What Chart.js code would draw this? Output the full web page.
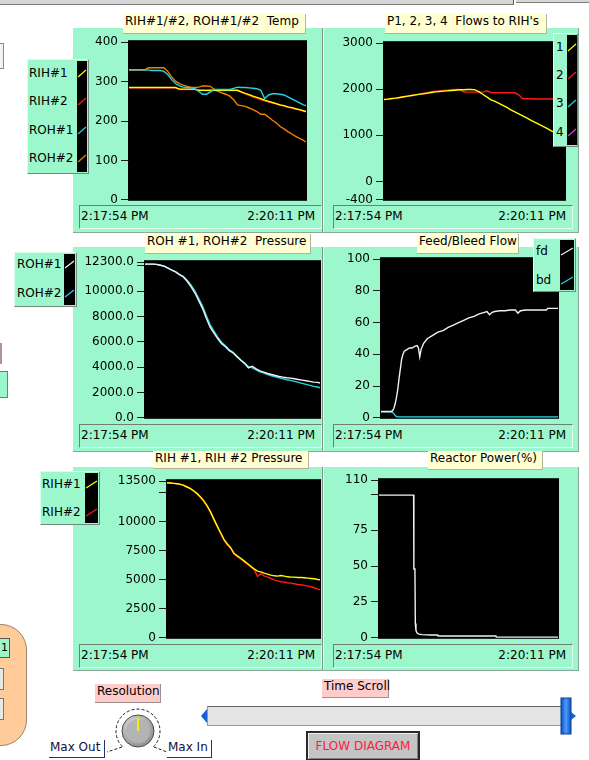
<!DOCTYPE html>
<html>
<head>
<meta charset="utf-8">
<title>Plant trends</title>
<script src="https://cdn.jsdelivr.net/npm/chart.js@4.4.1/dist/chart.umd.min.js"></script>
<style>
html,body{margin:0;padding:0;}
body{width:589px;height:760px;position:relative;overflow:hidden;background:#fff;font-family:"DejaVu Sans",sans-serif;font-size:12px;color:#000;}
.a{position:absolute;box-sizing:border-box;}
.row{background:#9cf8cc;border-right:1px solid #8aa89a;border-bottom:1px solid #8aa89a;}
.sep{width:2px;border-left:1px solid #7e9488;border-right:1px solid #d6fff0;}
.title{background:#ffffd2;border-right:1px solid #b4b49c;border-bottom:1px solid #b4b49c;white-space:pre;padding-left:2px;font-size:12px;z-index:5;}
.tbox{border:1px solid #6f7f77;border-right-color:#e0fff0;border-bottom-color:#e0fff0;background:#9cf8cc;font-size:12px;z-index:4;}
.tbox span{position:absolute;top:3px;white-space:pre;}
.legend{background:#9cf8cc;border:1px solid #d8fff0;border-right-color:#6f8a7e;border-bottom-color:#6f8a7e;z-index:6;}
.legend .lab{position:absolute;font-size:12px;line-height:14px;white-space:pre;}
.strip{position:absolute;background:#000;}
.pink{background:#ffcccc;border-right:1px solid #a09090;border-bottom:1px solid #a09090;font-size:12px;white-space:pre;padding-left:2px;}
.wlab{background:#fff;border-right:1px solid #303060;border-bottom:1px solid #303060;font-size:12px;color:#10103a;white-space:pre;padding-left:1px;}
canvas{position:absolute;z-index:3;}
</style>
</head>
<body>
<script>
// ---- trend window ----
const timeLabels = ['2:17:54 PM', '2:20:11 PM'];
const windowSec = 137;

// shared sample times (s after 2:17:54) for the 3-second trends
const gridTime = [0,3,6,9,12,15,18,21,24,27,30,33,36,39,42,45,48,51,54,57,60,63,66,69,72,75,78,81,84,87,90,93,96,99,102,105,108,111,114,117,120,123,126,129,132,135,137];

// ---- RIH/ROH temperatures ----
const tempTicks = [0,100,200,300,400];
const rih1Temp = [285,285,285,285,285,285,285,285,285,285,285,285,285,281,281,281,281,281,278,278,278,278,278,278,278,278,278,278,278,274,270,267,263,260,257,253,250,247,244,241,239,236,234,231,229,226,224];
const rih2Temp = [284,284,284,284,284,284,284,284,284,284,284,284,284,280,280,280,280,280,277,277,277,277,277,277,277,277,277,277,277,273,269,265,261,258,254,251,248,246,243,240,238,235,233,230,228,225,223];
const roh1Temp = [330,330,330,330,330,329,328,328,328,326,318,305,295,289,286,285,284,282,275,268,268,274,280,280,280,280,280,283,286,285,285,284,283,282,278,257,266,269,269,268,266,261,256,251,246,241,239];
const roh2Temp = [329,329,329,329,329,335,335,335,335,335,326,312,301,295,291,288,285,285,286,289,289,288,280,275,271,268,263,254,241,239,237,233,229,224,217,217,210,202,195,186,180,173,167,161,156,151,146];

// ---- P1..P4 flows to RIHs ----
const flowTicks = [-400,0,1000,2000,3000];
const p1Flow = [1778,1785,1800,1807,1822,1836,1850,1865,1879,1894,1901,1915,1930,1944,1952,1959,1966,1973,1980,1988,1988,1995,1995,1988,1944,1887,1829,1771,1735,1691,1648,1605,1554,1511,1467,1424,1380,1330,1287,1243,1200,1156,1106,1062,1019,976,947];
const p2Flow = [1778,1785,1800,1807,1822,1836,1850,1865,1879,1894,1915,1930,1945,1958,1966,1973,1980,1988,1995,1995,1945,1937,1937,1937,1937,1937,1966,1930,1923,1923,1923,1923,1923,1923,1880,1793,1793,1793,1790,1790,1790,1790,1788,1788,1786,1786,1785];

// ---- ROH pressures ----
const rohPressTicks = [0,2000,4000,6000,8000,10000,12000,12300];
const roh1Press = [12150,12150,12150,12130,12060,11990,11830,11670,11530,11320,11136,10796,10378,9881,9280,8652,7868,7162,6692,6247,5855,5620,5306,5123,4836,4548,4313,3950,4080,3869,3712,3607,3503,3424,3346,3268,3215,3163,3137,3085,3032,2980,2928,2875,2823,2797,2745];
const roh2Press = [12150,12150,12150,12130,12060,11990,11830,11670,11530,11320,11180,10880,10500,10030,9450,8850,8080,7350,6850,6380,5960,5700,5380,5170,4870,4560,4300,4050,3947,3790,3633,3529,3424,3320,3241,3163,3085,3006,2954,2875,2797,2719,2640,2562,2483,2431,2379];

// ---- feed / bleed flow ----
const feedTicks = [0,20,40,60,80,100];
const feedTime = [0,2,4,6,8,9,10,11,12,13,14,15,16,17,18,20,22,24,26,28,29,30,31,33,36,40,44,48,52,56,60,64,68,72,76,80,82,84,86,88,92,96,100,104,106,108,112,116,120,124,128,129,132,137];
const feedFlow = [4,4,4,4,4,4.5,6,9,13,18,25,31,37,40,42,43,44,44,45,45.5,44,38.5,43,47,50,52,54,55,57,58.5,60,61.5,63,64,65.5,66.5,67,65,66.5,67,67.5,67.5,68,68,66,67.5,68,68,68,68,68,69,69,69];
const bleedFlow = [3.8,3.8,3.8,3.8,3.8,3.5,2.5,1.5,0.8,0.5,0.5,0.5,0.5,0.5,0.5,0.5,0.5,0.5,0.5,0.5,0.5,0.5,0.5,0.5,0.5,0.5,0.5,0.5,0.5,0.5,0.5,0.5,0.5,0.5,0.5,0.5,0.5,0.5,0.5,0.5,0.5,0.5,0.5,0.5,0.5,0.5,0.5,0.5,0.5,0.5,0.5,0.5,0.5,0.5];

// ---- RIH pressures ----
const rihPressTicks = [0,2500,5000,7500,10000,12500,13500];
const rih1Press = [13371,13342,13314,13285,13228,13142,13000,12857,12657,12428,12143,11800,11371,10857,10228,9628,9057,8485,8085,7771,7285,7057,6857,6628,6400,6171,5942,5742,5685,5571,5485,5400,5343,5314,5371,5314,5257,5228,5228,5200,5200,5171,5143,5114,5086,5028,5000];
const rih2Press = [13371,13342,13314,13285,13228,13142,13000,12857,12657,12428,12083,11740,11311,10797,10168,9568,8997,8425,8025,7711,7225,6997,6797,6568,6340,6111,5882,5300,5514,5343,5228,5114,5000,4914,4828,4800,4743,4714,4657,4600,4571,4514,4457,4400,4314,4200,4143];

// ---- reactor power ----
const powerTicks = [0,25,50,75,100,110];
const powerTime = [0,26.5,26.7,27.5,27.8,28.3,29,30.5,33,40,45,45.3,89.5,89.8,137];
const reactorPower = [99.6,99.6,48,48,10,5,3.5,2.6,2.2,2.0,2.0,1.3,1.3,0.4,0.4];

const C = {yellow:'#ffff00', red:'#ff1a1a', cyan:'#26d4e4', orange:'#f08000', white:'#f2f2f2', magenta:'#d040d0'};

// ---- page furniture ----
function box(cls, x, y, w, h, html) {
  const d = document.createElement('div');
  d.className = 'a ' + cls;
  Object.assign(d.style, {left:x+'px', top:y+'px', width:w+'px', height:h+'px'});
  if (html !== undefined) d.innerHTML = html;
  document.body.appendChild(d);
  return d;
}

// header bars and clipped neighbouring controls
box('', 0, 0, 514, 5).style.cssText += 'background:#d6d6d6;border-bottom:1px solid #7c7c7c;border-right:1px solid #5c5c5c;';
box('', 516, 0, 73, 3).style.cssText += 'background:#d6d6d6;border-bottom:1px solid #7c7c7c;';
box('', 0, 43, 4, 26).style.cssText += 'background:#f2f2f2;border:1px solid #8a8a8a;border-left:none;';
box('', 0, 343, 2, 21).style.background = '#b09494';
box('', 0, 371, 8, 27).style.cssText += 'background:#9cf8cc;border:1px solid #7a7a7a;border-left:none;';
box('', -45, 624, 72, 122).style.cssText += 'background:#ffcc99;border:1px solid #9c8468;border-radius:26px;';
box('', 0, 638, 10, 20, '<span style="position:absolute;right:1px;top:2px;font-size:11px">1</span>').style.cssText += 'background:#9cf8cc;border:1px solid #555;border-left:none;';
box('', 0, 668, 4, 22).style.cssText += 'background:#e8e8e8;border:1px solid #777;border-left:none;';
box('', 0, 698, 4, 22).style.cssText += 'background:#e8e8e8;border:1px solid #777;border-left:none;';

// green panel rows and separators
box('row', 73, 28, 506, 205);
box('row', 73, 247, 506, 205);
box('row', 73, 467, 506, 204);
box('sep', 322, 28, 2, 204);
box('sep', 322, 247, 2, 204);
box('sep', 322, 467, 2, 203);

// chart titles
box('title', 123, 14, 183, 20, 'RIH#1/#2, ROH#1/#2  Temp');
box('title', 385, 14, 162, 20, "P1, 2, 3, 4  Flows to RIH's");
box('title', 145, 234, 166, 20, 'ROH #1, ROH#2  Pressure');
box('title', 417, 234, 102, 20, 'Feed/Bleed Flow');
box('title', 153, 451, 156, 18, 'RIH #1, RIH #2 Pressure');
box('title', 428, 451, 115, 19, 'Reactor Power(%)');

// time-axis boxes
function timeBox(x, y, w, h) {
  box('tbox', x, y, w, h, '<span style="left:1px">' + timeLabels[0] + '</span><span style="right:6px">' + timeLabels[1] + '</span>');
}
[[79,205],[333,205],[79,424],[333,424],[79,644],[333,644]].forEach(p => timeBox(p[0], p[1], p[0] === 79 ? 243 : 240, 24));

// plot legends
function legend(x, y, w, h, labX, stripX, stripW, items) {
  const d = box('legend', x, y, w, h);
  const s = document.createElement('div');
  s.className = 'strip';
  Object.assign(s.style, {left:(stripX - x - 1)+'px', top:'1px', width:stripW+'px', height:(h - 4)+'px'});
  let svg = '<svg width="' + stripW + '" height="' + (h - 4) + '" style="position:absolute;left:0;top:0">';
  items.forEach(it => {
    const cy = it.cy - y - 2;
    svg += '<line x1="1" y1="' + (cy + 4) + '" x2="' + (stripW - 1) + '" y2="' + (cy - 3) + '" stroke="' + it.color + '" stroke-width="1.2"/>';
    const l = document.createElement('div');
    l.className = 'lab';
    l.textContent = it.label;
    l.style.left = (labX - x - 1) + 'px';
    l.style.top = (it.cy - y - 8) + 'px';
    d.appendChild(l);
  });
  s.innerHTML = svg + '</svg>';
  d.appendChild(s);
}
legend(27, 59, 62, 115, 29, 77, 10, [
  {label:'RIH#1', cy:73, color:C.yellow}, {label:'RIH#2', cy:101, color:C.red},
  {label:'ROH#1', cy:130, color:C.cyan}, {label:'ROH#2', cy:158, color:C.orange}]);
legend(553, 33, 25, 114, 556, 567, 10, [
  {label:'1', cy:47, color:C.yellow}, {label:'2', cy:75, color:C.red},
  {label:'3', cy:103, color:C.cyan}, {label:'4', cy:132, color:C.magenta}]);
legend(14, 252, 63, 55, 17, 64, 11, [
  {label:'ROH#1', cy:264, color:C.white}, {label:'ROH#2', cy:293, color:C.cyan}]);
legend(533, 238, 43, 54, 536, 560, 14, [
  {label:'fd', cy:251, color:C.white}, {label:'bd', cy:280, color:C.cyan}]);
legend(40, 471, 60, 54, 42, 85, 13, [
  {label:'RIH#1', cy:484, color:C.yellow}, {label:'RIH#2', cy:512, color:C.red}]);

// ---- trend charts ----
const plotBackground = {
  id: 'plotBackground',
  beforeDraw(chart) {
    const a = chart.chartArea, ctx = chart.ctx;
    ctx.save();
    ctx.fillStyle = '#000';
    ctx.fillRect(a.left - 1, a.top - 2, a.right - a.left + 2, a.bottom - a.top + 3);
    ctx.restore();
  }
};

function trend(cfg) {
  const [l, t, r, b] = cfg.plot;
  const pad = 10;
  const W = r - l + cfg.axisW + 3, H = b - t + 2 * pad;
  const cv = document.createElement('canvas');
  cv.width = W; cv.height = H;
  Object.assign(cv.style, {left:(l - cfg.axisW)+'px', top:(t - pad)+'px', width:W+'px', height:H+'px'});
  document.body.appendChild(cv);
  new Chart(cv, {
    type: 'line',
    data: {datasets: cfg.series.map(s => ({
      label: s.name,
      data: s.t.map((x, i) => ({x, y: s.v[i]})),
      borderColor: s.color, borderWidth: 1.4, pointRadius: 0, tension: 0, fill: false
    }))},
    options: {
      responsive: false, animation: false, devicePixelRatio: 1,
      layout: {padding: {left: 0, right: 3, top: pad, bottom: pad}},
      plugins: {legend: {display: false}, tooltip: {enabled: false}},
      scales: {
        x: {type: 'linear', min: 0, max: windowSec, display: false},
        y: {
          min: cfg.min, max: cfg.max,
          afterFit: s => { s.width = cfg.axisW; },
          afterBuildTicks: s => { s.ticks = cfg.ticks.map(v => ({value: v})); },
          grid: {drawOnChartArea: false, drawTicks: true, tickLength: 8, color: '#1c1c1c'},
          border: {display: false},
          ticks: {autoSkip: false, padding: 3, color: '#000', font: {family: 'DejaVu Sans', size: 12},
                  callback: v => cfg.fmt(v)}
        }
      }
    },
    plugins: [plotBackground]
  });
}

trend({plot:[129,42,306,200], axisW:42, min:0, max:400, ticks:tempTicks, fmt:v => String(v), series:[
  {name:'ROH#1', t:gridTime, v:roh1Temp, color:C.cyan},
  {name:'RIH#1', t:gridTime, v:rih1Temp, color:C.yellow},
  {name:'ROH#2', t:gridTime, v:roh2Temp, color:C.orange},
  {name:'RIH#2', t:gridTime, v:rih2Temp, color:C.red}]});

trend({plot:[384,43,565,200], axisW:48, min:-400, max:3000, ticks:flowTicks, fmt:v => String(v), series:[
  {name:'1', t:gridTime, v:p1Flow, color:C.yellow},
  {name:'2', t:gridTime, v:p2Flow, color:C.red}]});

trend({plot:[145,262,320,418], axisW:72, min:0, max:12300, ticks:rohPressTicks,
  fmt:v => (v === 12000 ? '' : v.toFixed(1)), series:[
  {name:'ROH#1', t:gridTime, v:roh1Press, color:C.white},
  {name:'ROH#2', t:gridTime, v:roh2Press, color:C.cyan}]});

trend({plot:[381,259,558,418], axisW:42, min:0, max:100, ticks:feedTicks, fmt:v => String(v), series:[
  {name:'fd', t:feedTime, v:feedFlow, color:C.white},
  {name:'bd', t:feedTime, v:bleedFlow, color:C.cyan}]});

trend({plot:[167,481,320,638], axisW:58, min:0, max:13500, ticks:rihPressTicks,
  fmt:v => (v === 12500 ? '' : String(v)), series:[
  {name:'RIH#1', t:gridTime, v:rih1Press, color:C.yellow},
  {name:'RIH#2', t:gridTime, v:rih2Press, color:C.red}]});

trend({plot:[379,480,558,638], axisW:42, min:0, max:110, ticks:powerTicks,
  fmt:v => (v === 100 ? '' : String(v)), series:[
  {name:'Power', t:powerTime, v:reactorPower, color:C.white}]});

// ---- controls under the trends ----
box('pink', 95, 684, 66, 19, 'Resolution');
box('pink', 322, 679, 67, 19, 'Time Scroll');
box('wlab', 49, 740, 56, 18, 'Max Out');
box('wlab', 167, 740, 45, 18, 'Max In');

const knob = box('', 95, 700, 90, 60);
knob.innerHTML =
  '<svg width="90" height="60">' +
  '<defs><radialGradient id="kg" cx="0.4" cy="0.35" r="0.7"><stop offset="0" stop-color="#e4e4e4"/><stop offset="1" stop-color="#8c8c8c"/></radialGradient></defs>' +
  '<path d="M27.4 46.6 A22 22 0 1 1 58.6 46.6" fill="none" stroke="#202020" stroke-width="1" stroke-dasharray="3 2"/>' +
  '<line x1="27" y1="47" x2="12" y2="52" stroke="#202020" stroke-dasharray="3 2"/>' +
  '<line x1="59" y1="47" x2="72" y2="52" stroke="#202020" stroke-dasharray="3 2"/>' +
  '<circle cx="43" cy="31" r="16" fill="url(#kg)" stroke="#4c4c4c"/>' +
  '<circle cx="43" cy="31" r="12" fill="#b4b4b4"/>' +
  '<line x1="43" y1="31" x2="43" y2="18" stroke="#f4f000" stroke-width="2"/>' +
  '</svg>';

box('', 207, 706, 355, 20).style.cssText += 'background:#e4e4e4;border:1px solid #9a9a9a;border-top-color:#6a6a6a;';
const arrows = box('', 198, 696, 380, 40);
arrows.innerHTML =
  '<svg width="380" height="40">' +
  '<defs><linearGradient id="tg" x1="0" x2="1"><stop offset="0" stop-color="#0b4fc4"/><stop offset="0.5" stop-color="#4c9cf8"/><stop offset="1" stop-color="#0b4fc4"/></linearGradient></defs>' +
  '<polygon points="9,13 3,20 9,27" fill="#1560d8"/>' +
  '<rect x="363" y="2" width="10" height="36" fill="url(#tg)" stroke="#0a3c9a"/>' +
  '<polygon points="373,16 378,20 373,24" fill="#1560d8"/>' +
  '</svg>';

const btn = box('', 306, 731, 114, 30, 'FLOW DIAGRAM');
btn.style.cssText += 'background:#c4c4c4;border:2px solid #2a2a2a;box-shadow:inset 1px 1px 0 #f0f0f0,inset -1px -1px 0 #808080;color:#ff1a3a;font-size:12px;text-align:center;line-height:26px;';
</script>
</body>
</html>
